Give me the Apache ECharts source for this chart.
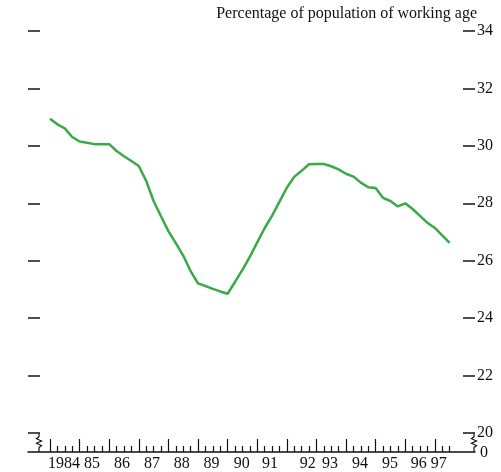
<!DOCTYPE html>
<html>
<head>
<meta charset="utf-8">
<script src="https://cdn.jsdelivr.net/npm/echarts@6/dist/echarts.min.js"></script>
<style>html,body{margin:0;padding:0;background:#fff}#c{width:501px;height:472px}</style>
</head>
<body>
<div id="c"></div>
<script>
// Quarterly data, 1984 Q1 .. 1997 Q3
const startYear = 1984;
const values = [30.94, 30.75, 30.61, 30.31, 30.15, 30.11, 30.06, 30.06, 30.06, 29.82,
  29.64, 29.47, 29.30, 28.78, 28.08, 27.55, 27.03, 26.61, 26.18, 25.64,
  25.21, 25.12, 25.02, 24.93, 24.85, 25.26, 25.68, 26.13, 26.64, 27.13,
  27.56, 28.05, 28.54, 28.92, 29.13, 29.36, 29.37, 29.37, 29.29, 29.18,
  29.03, 28.93, 28.72, 28.56, 28.53, 28.19, 28.08, 27.89, 28.00, 27.80,
  27.56, 27.32, 27.14, 26.88, 26.62];
const yearLabels = ['1984','85','86','87','88','89','90','91','92','93','94','95','96','97'];
const yearLabelAt = [1984.47,1985.42,1986.43,1987.45,1988.45,1989.46,1990.48,1991.43,1992.71,1993.46,1994.47,1995.49,1996.46,1997.13];
const yearTicks = [1984,1985,1986,1987,1988,1989,1990,1991,1992,1993,1994,1995,1996,1997];
const quarterTicks = [];
for (let y = 1984; y <= 1997; y++) { for (const q of [0.25,0.5,0.75]) { if (y + q <= 1997.5) quarterTicks.push(y + q); } }
const yTickLabels = [20,22,24,26,28,30,32,34];
const brokenAxisLabel = '0';
const titleText = 'Percentage of population of working age';

const FONT = "'Liberation Serif','Times New Roman',serif";
const FS = 16;
const data = values.map((v, i) => [startYear + i / 4, v]);

const chart = echarts.init(document.getElementById('c'), null, {renderer: 'canvas'});
const gridLeft = 28, gridRight = 26, gridTop = 31, gridBottom = 39;
const xMin = 1983.257, xMax = 1998.358;

const baseX = {
  type: 'value', min: xMin, max: xMax, position: 'bottom', offset: 19,
  splitLine: {show: false}
};

chart.setOption({
  animation: false,
  title: {
    text: titleText, right: 24, top: 6, padding: 0,
    textStyle: {fontFamily: FONT, fontSize: FS, fontWeight: 'normal', color: '#111'}
  },
  grid: {left: gridLeft, right: gridRight, top: gridTop, bottom: gridBottom, containLabel: false},
  xAxis: [
    Object.assign({}, baseX, {
      axisLine: {show: true, lineStyle: {color: '#111', width: 1.5}},
      axisTick: {show: true, inside: true, length: 13, customValues: yearTicks, lineStyle: {color: '#111', width: 1.2}},
      axisLabel: {show: true, customValues: yearLabelAt, margin: 4,
        fontFamily: FONT, fontSize: FS, color: '#111',
        formatter: function (val) {
          let best = 0, bd = 1e9;
          yearLabelAt.forEach((p, i) => { const d = Math.abs(p - val); if (d < bd) { bd = d; best = i; } });
          return yearLabels[best];
        }}
    }),
    Object.assign({}, baseX, {
      axisLine: {show: false},
      axisTick: {show: true, inside: true, length: 6, customValues: quarterTicks, lineStyle: {color: '#111', width: 1.2}},
      axisLabel: {show: false}
    })
  ],
  yAxis: [
    {
      type: 'value', min: 20, max: 34, interval: 2, position: 'right',
      axisLine: {show: false},
      axisTick: {show: true, inside: true, length: 12, lineStyle: {color: '#222', width: 1.6}},
      axisLabel: {show: true, margin: 2, fontFamily: FONT, fontSize: FS, color: '#111',
        formatter: v => String(yTickLabels[yTickLabels.indexOf(v)])},
      splitLine: {show: false}
    },
    {
      type: 'value', min: 20, max: 34, interval: 2, position: 'left',
      axisLine: {show: false},
      axisTick: {show: true, inside: true, length: 12, lineStyle: {color: '#222', width: 1.6}},
      axisLabel: {show: false},
      splitLine: {show: false}
    }
  ],
  series: [{
    type: 'line', data: data, xAxisIndex: 0, yAxisIndex: 0,
    showSymbol: false, symbol: 'none',
    lineStyle: {color: '#3aaa48', width: 2.5},
    itemStyle: {color: '#3aaa48'}
  }],
  graphic: []
});

// Axis-break zigzags and the "0" label of the broken axis, positioned via the axis scale
const y20 = chart.convertToPixel({yAxisIndex: 0}, 20);
const yAxisLine = y20 + 19;
function zig(x) {
  const h = yAxisLine - y20;
  return [[x, y20], [x, y20 + h * 0.2], [x - 2.5, y20 + h * 0.3], [x + 2.5, y20 + h * 0.42], [x - 2.5, y20 + h * 0.54], [x + 2.5, y20 + h * 0.66], [x, y20 + h * 0.76], [x, yAxisLine]];
}
const leftX = gridLeft + 11;
const rightX = 501 - gridRight - 1;
chart.setOption({
  graphic: [
    {type: 'polyline', shape: {points: zig(leftX)}, style: {stroke: '#111', lineWidth: 1.2, fill: null}},
    {type: 'polyline', shape: {points: zig(rightX)}, style: {stroke: '#111', lineWidth: 1.2, fill: null}},
    {type: 'text', x: 501 - gridRight + 5, y: yAxisLine + 1, style: {text: brokenAxisLabel, font: FS + 'px ' + FONT, fill: '#111', textVerticalAlign: 'middle', verticalAlign: 'middle'}}
  ]
});
</script>
</body>
</html>
